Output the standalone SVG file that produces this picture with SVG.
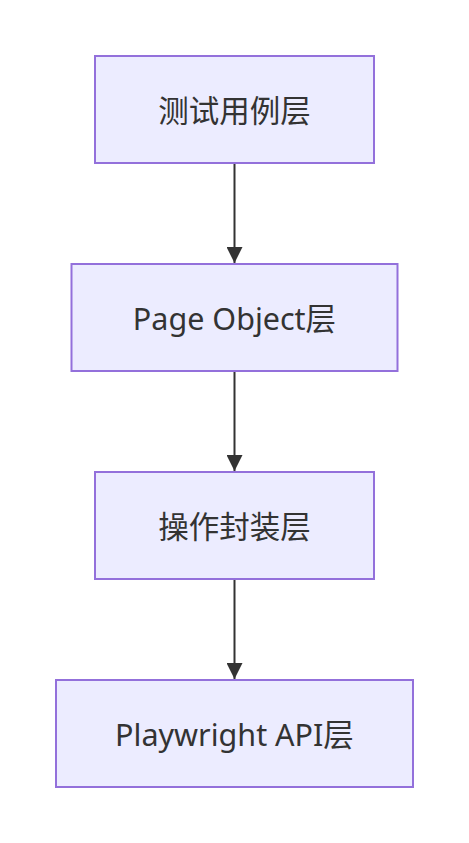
<svg xmlns="http://www.w3.org/2000/svg" width="469" height="843" viewBox="0 0 469 843">
<defs>
<style>
.node rect{fill:#ECECFF;stroke:#9370DB;stroke-width:2}
.node text{font-family:"Noto Sans","Noto Sans CJK SC",sans-serif;font-size:30.5px;fill:#333333;text-anchor:middle;dominant-baseline:central}
.cjk{font-size:32px}
.edge{stroke:#333333;stroke-width:2;fill:none}
</style>
<marker id="arrow" viewBox="0 0 10 10" refX="10" refY="5" markerUnits="userSpaceOnUse" markerWidth="17" markerHeight="16" orient="auto">
<path d="M0,0 L10,5 L0,10 z" fill="#333333"/>
</marker>
</defs>
<rect width="469" height="843" fill="#ffffff"/>
<g id="connectors">
<line class="edge" x1="234.5" y1="164" x2="234.5" y2="263" marker-end="url(#arrow)"/>
<line class="edge" x1="234.5" y1="372" x2="234.5" y2="471" marker-end="url(#arrow)"/>
<line class="edge" x1="234.5" y1="580" x2="234.5" y2="679" marker-end="url(#arrow)"/>
</g>
<g id="n1" class="node"><rect x="95" y="56" width="279" height="107"/><text class="cjk" x="234.5" y="109.5">测试用例层</text></g>
<g id="n2" class="node"><rect x="71.5" y="264" width="326" height="107"/><text x="234.5" y="317.5">Page Object层</text></g>
<g id="n3" class="node"><rect x="95" y="472" width="279" height="107"/><text class="cjk" x="234.5" y="525.5">操作封装层</text></g>
<g id="n4" class="node"><rect x="56" y="680" width="357" height="107"/><text x="234.5" y="733.5">Playwright API层</text></g>
</svg>
